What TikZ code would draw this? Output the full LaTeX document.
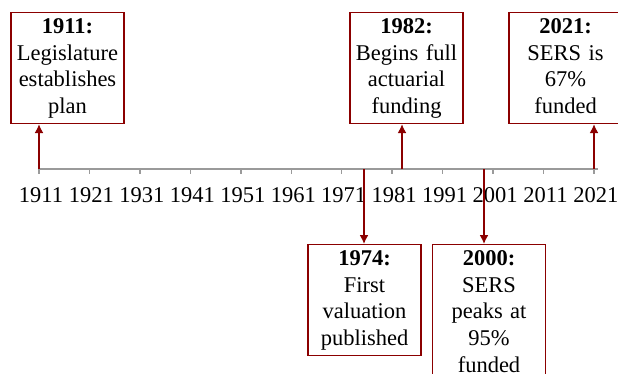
\documentclass[tikz,border=0pt]{standalone}
\usepackage{fontspec}
\setmainfont{Liberation Serif}
\usepackage{xcolor}
\definecolor{eventRed}{HTML}{8B0000}
\definecolor{axisGray}{HTML}{9A9A9A}
\usetikzlibrary{positioning,calc,arrows.meta}
\tikzset{%
  eventBox/.style={%
    rectangle,
    draw=eventRed,
    line width=1.3pt,
    fill=white,
    inner xsep=3pt,
    inner ysep=2pt,
    text width=107pt,
    align=center,
    execute at begin node=\strut,
    execute at end node=\strut,
    font=\fontsize{22.5}{26.7}\selectfont
  },
  arrowLine/.style={%
    -{Latex[length=9pt,width=9pt]},
    line width=1.6pt,
    color=eventRed
  },
  axisLine/.style={%
    line width=1.4pt,
    color=axisGray
  },
  yearLabel/.style={%
    font=\fontsize{22.5}{26}\selectfont,
    inner sep=0pt
  }
}

\begin{document}
\begin{tikzpicture}[x=1pt,y=-1pt]
  \useasboundingbox (0,0) rectangle (618,373);
  \clip (0,0) rectangle (618,373);

  % timeline axis
  \coordinate (axisStart) at (39,169);
  \coordinate (axisEnd) at (598,169);
  \draw[axisLine] (axisStart) -- (axisEnd);
  \foreach \i in {0,...,11} {
    \pgfmathtruncatemacro{\yr}{1911+10*\i}
    \coordinate (tick\i) at ($(axisStart)+(50.45*\i,0)$);
    \draw[axisLine] (tick\i) -- ++(0,5);
    \node[yearLabel] at ($(tick\i)+(2,26)$) {\yr};
  }

  % events above the axis
  \node[eventBox, anchor=north] (e1911) at (67.5,12) {\textbf{1911:}\\Legislature\\establishes\\plan};
  \node[eventBox, anchor=north] (e1982) at (406.5,12) {\textbf{1982:}\\Begins full\\actuarial\\funding};
  \node[eventBox, anchor=north] (e2021) at (565.5,12) {\textbf{2021:}\\SERS is\\67\%\\funded};

  % events below the axis
  \node[eventBox, anchor=north] (e1974) at (364.5,244) {\textbf{1974:}\\First\\valuation\\published};
  \node[eventBox, anchor=north] (e2000) at (489,244) {\textbf{2000:}\\SERS\\peaks at\\95\%\\funded};

  \coordinate (p1911) at (39,169);
  \coordinate (p1974) at (364,169);
  \coordinate (p1982) at (402,169);
  \coordinate (p2000) at (484,169);
  \coordinate (p2021) at (594,169);

  \draw[arrowLine] (p1911) -- (p1911 |- e1911.south);
  \draw[arrowLine] (p1982) -- (p1982 |- e1982.south);
  \draw[arrowLine] (p2021) -- (p2021 |- e2021.south);
  \draw[arrowLine] (p1974) -- (p1974 |- e1974.north);
  \draw[arrowLine] (p2000) -- (p2000 |- e2000.north);
\end{tikzpicture}
\end{document}
